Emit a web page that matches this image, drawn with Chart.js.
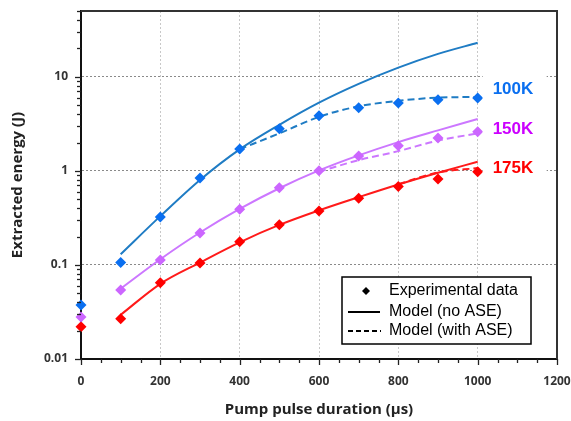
<!DOCTYPE html>
<html>
<head>
<meta charset="utf-8">
<script src="https://cdn.jsdelivr.net/npm/chart.js@4.4.1/dist/chart.umd.min.js"></script>
<style>
  html, body { margin: 0; padding: 0; background: #fff; }
</style>
</head>
<body>
<canvas id="chart" width="571" height="421"></canvas>
<script>
// measured points
const durations = [0, 100, 200, 300, 400, 500, 600, 700, 800, 900, 1000];
const exp100K = [0.0375, 0.106, 0.324, 0.84, 1.71, 2.8, 3.85, 4.68, 5.26, 5.7, 5.93];
const exp150K = [0.028, 0.054, 0.113, 0.219, 0.39, 0.66, 1.0, 1.44, 1.85, 2.24, 2.6];
const exp175K = [0.022, 0.0267, 0.0645, 0.105, 0.176, 0.267, 0.375, 0.51, 0.68, 0.82, 0.98];

// model without ASE
const modelDurations = [100, 200, 300, 400, 500, 600, 700, 800, 900, 1000];
const model100K = [0.13, 0.33, 0.80, 1.69, 3.08, 5.3, 8.4, 12.5, 17.5, 23];
const model150K = [0.056, 0.115, 0.221, 0.394, 0.653, 1.01, 1.46, 2.02, 2.69, 3.55];
const model175K = [0.0295, 0.063, 0.106, 0.174, 0.266, 0.38, 0.525, 0.716, 0.955, 1.25];

// model with ASE
const ase100KDurations = [400, 500, 600, 700, 800, 900, 1000];
const ase100K = [1.7, 2.5, 3.75, 4.85, 5.55, 6.0, 6.1];
const ase150KDurations = [600, 700, 800, 900, 1000];
const ase150K = [0.98, 1.3, 1.62, 2.1, 2.5];
const ase175KDurations = [800, 900, 1000];
const ase175K = [0.72, 0.96, 1.07];

const seriesNames = ["100K", "150K", "175K"];
const legendLabels = ["Experimental data", "Model (no ASE)", "Model (with ASE)"];

const xTickValues = [0, 50, 100, 150, 200, 250, 300, 350, 400, 450, 500, 550, 600, 650, 700, 750, 800, 850, 900, 950, 1000, 1050, 1100, 1150, 1200];
const yTickValues = [0.01, 0.02, 0.03, 0.04, 0.05, 0.06, 0.07, 0.08, 0.09,
  0.1, 0.2, 0.3, 0.4, 0.5, 0.6, 0.7, 0.8, 0.9,
  1, 2, 3, 4, 5, 6, 7, 8, 9, 10, 20, 30, 40, 50];
const yMajorTicks = [0.01, 0.1, 1, 10];
const yTickLabels = ["0.01", "0.1", "1", "10"];

const markerColors = ["#0a6ff0", "#cc66ff", "#ff0000"];
const lineColors = ["#1f7cc4", "#cc77ff", "#ff1a1a"];
const textColors = ["#0a6ff0", "#cc00ff", "#ff0000"];

function pts(xs, ys) {
  return xs.map((x, i) => ({ x: x, y: ys[i] }));
}

const expSets = [exp100K, exp150K, exp175K];
const modelSets = [model100K, model150K, model175K];
const aseSets = [[ase100KDurations, ase100K], [ase150KDurations, ase150K], [ase175KDurations, ase175K]];

const datasets = [];
seriesNames.forEach((name, i) => {
  datasets.push({
    label: name + " model",
    data: pts(modelDurations, modelSets[i]),
    borderColor: lineColors[i],
    borderWidth: 2,
    pointRadius: 0,
    cubicInterpolationMode: "monotone",
    showLine: true,
    order: 3
  });
  datasets.push({
    label: name + " model ASE",
    data: pts(aseSets[i][0], aseSets[i][1]),
    borderColor: lineColors[i],
    borderWidth: 2,
    borderDash: [7, 4],
    pointRadius: 0,
    cubicInterpolationMode: "monotone",
    showLine: true,
    order: 2
  });
  datasets.push({
    label: name + " exp",
    data: pts(durations, expSets[i]),
    showLine: false,
    clip: false,
    pointStyle: "rectRot",
    pointRadius: 5.5,
    pointBackgroundColor: markerColors[i],
    pointBorderColor: markerColors[i],
    pointBorderWidth: 0,
    order: 1
  });
});

const extrasPlugin = {
  id: "extras",
  afterDraw(chart) {
    const { ctx, chartArea: a, scales: { x, y } } = chart;
    ctx.save();

    // frame
    ctx.strokeStyle = "#333";
    ctx.lineWidth = 2;
    ctx.beginPath();
    ctx.moveTo(a.left, a.top);
    ctx.lineTo(a.right, a.top);
    ctx.lineTo(a.right, a.bottom);
    ctx.stroke();

    // tick marks
    ctx.strokeStyle = "#222";
    ctx.lineWidth = 1.3;
    xTickValues.forEach(v => {
      const px = Math.round(x.getPixelForValue(v)) + 0.5;
      const len = v % 200 === 0 ? 6 : 4;
      ctx.beginPath();
      ctx.moveTo(px, a.bottom);
      ctx.lineTo(px, a.bottom + len);
      ctx.stroke();
    });
    yTickValues.forEach(v => {
      const py = Math.round(y.getPixelForValue(v)) + 0.5;
      const len = yMajorTicks.includes(v) ? 6 : 4;
      ctx.beginPath();
      ctx.moveTo(a.left, py);
      ctx.lineTo(a.left - len, py);
      ctx.stroke();
    });

    // series labels
    const labelX = x.getPixelForValue(1000) + 15;
    const labelAt = [7.6, 2.8, 1.1];
    ctx.font = "bold 17px 'Liberation Sans', Arial, sans-serif";
    ctx.textBaseline = "middle";
    ctx.textAlign = "left";
    seriesNames.forEach((name, i) => {
      const py = y.getPixelForValue(labelAt[i]);
      ctx.fillStyle = "#fff";
      ctx.fillRect(labelX - 10, py - 14, 64, 27);
      ctx.fillStyle = textColors[i];
      ctx.fillText(name, labelX, py + 1);
    });

    // legend box
    const bx = 342, by = 277, bw = 189, bh = 67;
    ctx.fillStyle = "#fff";
    ctx.fillRect(bx, by, bw, bh);
    ctx.strokeStyle = "#000";
    ctx.lineWidth = 1.5;
    ctx.strokeRect(bx, by, bw, bh);
    ctx.font = "16px 'Liberation Sans', Arial, sans-serif";
    ctx.fillStyle = "#000";
    const rows = [291, 312, 331];
    legendLabels.forEach((t, i) => {
      ctx.fillText(t, bx + 47, rows[i]);
    });
    // diamond
    ctx.beginPath();
    ctx.moveTo(366, rows[0] - 4);
    ctx.lineTo(370, rows[0]);
    ctx.lineTo(366, rows[0] + 4);
    ctx.lineTo(362, rows[0]);
    ctx.closePath();
    ctx.fill();
    ctx.lineWidth = 2;
    ctx.beginPath();
    ctx.moveTo(348, rows[1]);
    ctx.lineTo(380, rows[1]);
    ctx.stroke();
    ctx.setLineDash([5, 3]);
    ctx.beginPath();
    ctx.moveTo(348, rows[2]);
    ctx.lineTo(381, rows[2]);
    ctx.stroke();
    ctx.restore();
  }
};

const tickFont = { family: "'Open Sans', sans-serif", size: 12, weight: "bold" };
const titleFont = { family: "'Open Sans', sans-serif", size: 15, weight: "bold" };

new Chart(document.getElementById("chart"), {
  type: "scatter",
  data: { datasets: datasets },
  options: {
    responsive: false,
    animation: false,
    layout: { padding: { top: 11, right: 14, left: 0, bottom: 0 } },
    plugins: {
      legend: { display: false },
      tooltip: { enabled: false }
    },
    scales: {
      x: {
        type: "linear",
        min: 0,
        max: 1200,
        afterBuildTicks: scale => { scale.ticks = xTickValues.map(v => ({ value: v })); },
        afterFit: scale => {
          scale.height = 62;
          scale.paddingLeft = 0;
          scale.paddingRight = 0;
        },
        ticks: {
          autoSkip: false,
          maxRotation: 0,
          padding: 15,
          color: "#333",
          font: tickFont,
          callback: v => (v % 200 === 0 ? String(v) : "")
        },
        grid: {
          drawTicks: false,
          lineWidth: 1,
          color: c => (c.tick && c.tick.value % 200 === 0 && c.tick.value > 0 && c.tick.value < 1200 ? "#c8c8c8" : "rgba(0,0,0,0)")
        },
        border: { display: true, color: "#111", width: 2, dash: [2, 2] },
        title: {
          display: true,
          text: "Pump pulse duration (µs)",
          color: "#222",
          font: titleFont,
          padding: { top: 0, bottom: 2 }
        }
      },
      y: {
        type: "logarithmic",
        min: 0.01,
        max: 50,
        afterBuildTicks: scale => { scale.ticks = yTickValues.map(v => ({ value: v })); },
        afterFit: scale => {
          scale.width = 81;
          scale.paddingTop = 0;
          scale.paddingBottom = 0;
        },
        ticks: {
          autoSkip: false,
          padding: 13,
          color: "#333",
          font: tickFont,
          callback: v => {
            const k = yMajorTicks.findIndex(m => Math.abs(m - v) < m * 1e-6);
            return k >= 0 ? yTickLabels[k] : "";
          }
        },
        grid: {
          drawTicks: false,
          lineWidth: 1,
          color: c => (c.tick && [0.1, 1, 10].some(m => Math.abs(m - c.tick.value) < m * 1e-6) ? "#8a8a8a" : "rgba(0,0,0,0)")
        },
        border: { display: true, color: "#111", width: 2, dash: [2, 2] },
        title: {
          display: true,
          text: "Extracted energy (J)",
          color: "#222",
          font: titleFont,
          padding: { top: 9, bottom: 0 }
        }
      }
    }
  },
  plugins: [extrasPlugin]
});
</script>
</body>
</html>
